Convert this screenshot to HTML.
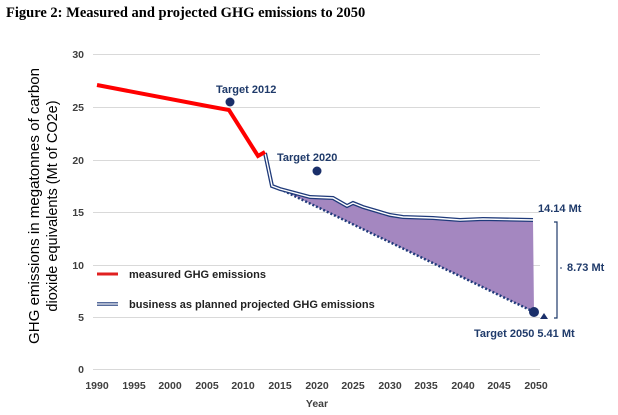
<!DOCTYPE html>
<html><head><meta charset="utf-8"><style>
html,body{margin:0;padding:0;background:#fff;width:618px;height:415px;overflow:hidden}
svg{display:block}
</style></head><body>
<svg width="618" height="415" viewBox="0 0 618 415" xmlns="http://www.w3.org/2000/svg">
<text x="6" y="17" font-family="Liberation Serif, serif" font-weight="bold" font-size="14.5" fill="#000">Figure 2: Measured and projected GHG emissions to 2050</text>
<g stroke="#d9d9d9" stroke-width="1">
<line x1="93" x2="540" y1="54.5" y2="54.5"/><line x1="93" x2="540" y1="107.5" y2="107.5"/>
<line x1="93" x2="540" y1="160.5" y2="160.5"/><line x1="93" x2="540" y1="212.5" y2="212.5"/>
<line x1="93" x2="540" y1="265.5" y2="265.5"/><line x1="93" x2="540" y1="317.5" y2="317.5"/>
<line x1="93" x2="540" y1="369.5" y2="369.5"/>
</g>
<g font-family="Liberation Sans, sans-serif" font-weight="bold" font-size="10.5" fill="#404040" text-anchor="end">
<text x="84" y="58">30</text><text x="84" y="111">25</text><text x="84" y="164">20</text>
<text x="84" y="216">15</text><text x="84" y="269">10</text><text x="84" y="321">5</text><text x="84" y="373">0</text>
</g>
<g font-family="Liberation Sans, sans-serif" font-weight="bold" font-size="10.5" fill="#404040" text-anchor="middle">
<text x="97" y="389">1990</text><text x="134" y="389">1995</text><text x="170" y="389">2000</text>
<text x="207" y="389">2005</text><text x="243" y="389">2010</text><text x="280" y="389">2015</text>
<text x="317" y="389">2020</text><text x="353" y="389">2025</text><text x="390" y="389">2030</text>
<text x="426" y="389">2035</text><text x="463" y="389">2040</text><text x="499" y="389">2045</text>
<text x="536" y="389">2050</text>
<text x="317" y="407">Year</text>
</g>
<g font-family="Liberation Sans, sans-serif" font-size="14.5" fill="#000" text-anchor="middle">
<text transform="translate(39,206) rotate(-90)" textLength="276" lengthAdjust="spacingAndGlyphs">GHG emissions in megatonnes of carbon</text>
<text transform="translate(57,206) rotate(-90)">dioxide equivalents (Mt of CO2e)</text>
</g>
<polygon points="280,189 310,197 333,198 347,206 353,203 363,207 390,215 403,217 433,218 460,220 483,219 533,220 534,312" fill="#a487c0"/>
<line x1="280" y1="189" x2="534" y2="312" stroke="#1f3a7a" stroke-width="2.5" stroke-dasharray="2,2"/>
<polyline points="265,153 272,186 280,189 310,197 333,198 347,206 353,203 363,207 390,215 403,217 433,218 460,220 483,219 533,220" fill="none" stroke="#1f3a7a" stroke-width="4"/>
<polyline points="265,153 272,186 280,189 310,197 333,198 347,206 353,203 363,207 390,215 403,217 433,218 460,220 483,219 533,220" fill="none" stroke="#fff" stroke-width="1.4"/>
<polyline points="97,85 207,106 229,110 258,156 265,152" fill="none" stroke="#ff0000" stroke-width="4"/>
<circle cx="230" cy="102" r="4.5" fill="#1a2f6a"/>
<circle cx="317" cy="171" r="4.5" fill="#1a2f6a"/>
<circle cx="534" cy="312" r="5" fill="#1a2f6a"/>
<polygon points="544,313 548,319 540,319" fill="#1a2f6a"/>
<g font-family="Liberation Sans, sans-serif" font-weight="bold" font-size="11" fill="#1f3a6a">
<text x="216" y="93">Target 2012</text>
<text x="277" y="161">Target 2020</text>
<text x="538" y="212">14.14 Mt</text>
<text x="474" y="337">Target 2050 5.41 Mt</text>
<text x="567" y="271">8.73 Mt</text>
</g>
<polyline points="554,222 557,222 557,318 554,318" fill="none" stroke="#1f3a6a" stroke-width="1.2"/>
<line x1="560" y1="268" x2="562" y2="268" stroke="#1f3a6a" stroke-width="1"/>
<line x1="97" y1="274" x2="118" y2="274" stroke="#e02020" stroke-width="3"/>
<line x1="97" y1="304" x2="118" y2="304" stroke="#1f3a7a" stroke-width="3.5"/>
<line x1="97" y1="304" x2="118" y2="304" stroke="#fff" stroke-width="1.2"/>
<g font-family="Liberation Sans, sans-serif" font-weight="bold" font-size="11" fill="#222">
<text x="129" y="278">measured GHG emissions</text>
<text x="129" y="308">business as planned projected GHG emissions</text>
</g>
</svg>
</body></html>
